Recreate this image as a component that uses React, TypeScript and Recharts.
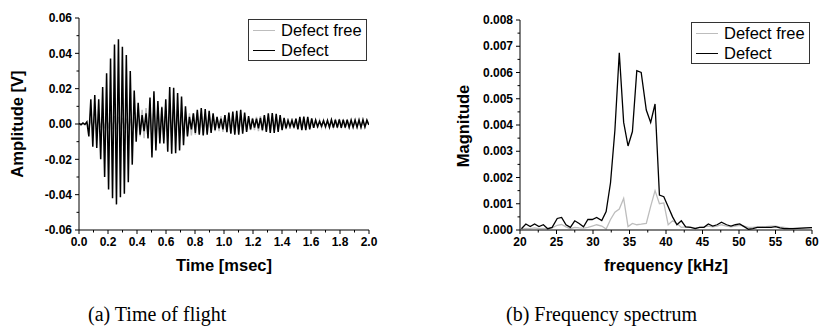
import React from 'react';
import { LineChart, Line, XAxis, YAxis } from 'recharts';

// ---------- Time of flight (left) ----------
const SAMPLE_INTERVAL_MS = 0.0136;
const SERIES_NAMES = ['Defect free', 'Defect'];

const DEFECT_FREE_TIME = [
  0.0002, -0.0002, 0.0003, -0.0002, 0.0004, -0.0015, 0.002, -0.0015, 0.0025, -0.002,
  0.003, -0.002, 0.003, -0.0025, 0.0035, -0.0025, 0.004, -0.003, 0.0045, -0.003,
  0.004, -0.003, 0.0035, -0.0025, 0.003, -0.0025, 0.003, -0.003, 0.004, -0.005,
  0.006, -0.007, 0.008, -0.008, 0.009, -0.0085, 0.009, -0.008, 0.0085, -0.009,
  0.01, -0.0095, 0.01, -0.009, 0.0085, -0.008, 0.008, -0.0075, 0.008, -0.007,
  0.0075, -0.007, 0.007, -0.0065, 0.007, -0.006, 0.006, -0.0065, 0.006, -0.006,
  0.0065, -0.0055, 0.006, -0.006, 0.0055, -0.005, 0.005, -0.0045, 0.0045, -0.004,
  0.004, -0.004, 0.0045, -0.0045, 0.005, -0.005, 0.0055, -0.005, 0.0055, -0.005,
  0.005, -0.0045, 0.0045, -0.004, 0.004, -0.0035, 0.0035, -0.0035, 0.0035, -0.0035,
  0.004, -0.004, 0.0045, -0.004, 0.0045, -0.004, 0.004, -0.0035, 0.004, -0.0035,
  0.0035, -0.003, 0.003, -0.003, 0.003, -0.003, 0.003, -0.0028, 0.003, -0.0028,
  0.003, -0.0028, 0.0028, -0.0025, 0.0028, -0.0025, 0.0025, -0.0022, 0.0024, -0.0022,
  0.0024, -0.0022, 0.0022, -0.002, 0.0022, -0.002, 0.0022, -0.002, 0.002, -0.002,
  0.002, -0.0018, 0.002, -0.0018, 0.002, -0.0018, 0.0018, -0.0018, 0.0018, -0.0016,
  0.0018, -0.0016, 0.0018, -0.0016, 0.0016, -0.0016, 0.0016, -0.0004,
];

const DEFECT_TIME = [
  0.0003, -0.0004, 0.0006, -0.0003, 0.0012, -0.007, 0.014, -0.0128, 0.0164, -0.0135,
  0.014, -0.02, 0.021, -0.03, 0.0287, -0.037, 0.037, -0.042, 0.045, -0.0455,
  0.048, -0.0415, 0.0437, -0.0395, 0.039, -0.033, 0.03, -0.023, 0.019, -0.01,
  0.012, -0.006, 0.005, -0.004, 0.006, -0.008, 0.015, -0.019, 0.0185, -0.015,
  0.013, -0.011, 0.0095, -0.011, 0.014, -0.0157, 0.021, -0.0168, 0.0205, -0.0165,
  0.0175, -0.015, 0.0155, -0.012, 0.01, -0.007, 0.004, -0.003, 0.006, -0.005,
  0.008, -0.006, 0.009, -0.0065, 0.0085, -0.006, 0.0075, -0.005, 0.006, -0.0035,
  0.004, -0.0025, 0.003, -0.003, 0.005, -0.0045, 0.0065, -0.0055, 0.007, -0.006,
  0.0075, -0.006, 0.008, -0.0055, 0.0065, -0.0045, 0.0045, -0.003, 0.003, -0.002,
  0.003, -0.0025, 0.0035, -0.0035, 0.005, -0.0045, 0.006, -0.005, 0.0062, -0.005,
  0.0058, -0.0045, 0.005, -0.0035, 0.0035, -0.0025, 0.002, -0.0015, 0.002, -0.002,
  0.003, -0.003, 0.004, -0.0035, 0.0042, -0.0035, 0.004, -0.003, 0.0032, -0.0022,
  0.0022, -0.0015, 0.0015, -0.0012, 0.0018, -0.0015, 0.002, -0.0018, 0.0024, -0.002,
  0.0025, -0.002, 0.0026, -0.0021, 0.0025, -0.002, 0.0024, -0.0019, 0.0022, -0.0018,
  0.0022, -0.0018, 0.0023, -0.0019, 0.0024, -0.0017, 0.0022, -0.0005,
];

const TIME_MAJOR_TICKS = [0, 0.2, 0.4, 0.6, 0.8, 1.0, 1.2, 1.4, 1.6, 1.8, 2.0];
const TIME_MINOR_TICKS = [0.1, 0.3, 0.5, 0.7, 0.9, 1.1, 1.3, 1.5, 1.7, 1.9];
const AMP_MAJOR_TICKS = [-0.06, -0.04, -0.02, 0, 0.02, 0.04, 0.06];
const AMP_MINOR_TICKS = [-0.05, -0.03, -0.01, 0.01, 0.03, 0.05];

// ---------- Frequency spectrum (right) ----------
const FREQ_KHZ = [
  20.2, 20.8, 21.4, 22.0, 22.6, 23.2, 23.8, 24.4, 25.1, 25.7,
  26.3, 26.9, 27.5, 28.1, 28.7, 29.3, 29.9, 30.5, 31.2, 31.8,
  32.4, 33.0, 33.6, 34.2, 34.8, 35.4, 36.0, 36.6, 37.3, 37.9,
  38.5, 39.1, 39.7, 40.3, 40.9, 41.5, 42.1, 42.7, 43.4, 44.0,
  44.6, 45.2, 45.8, 46.4, 47.0, 47.6, 48.3, 48.9, 49.5, 50.1,
  50.7, 51.3, 51.9, 52.5, 53.1, 53.7, 54.4, 55.0, 55.6, 56.2,
  56.8, 57.4, 58.0, 58.6, 59.2, 59.8, 60.4,
];

const DEFECT_FREE_SPEC = [
  0.00003, 0.00006, 0.00005, 0.00008, 0.00005, 0.00006, 0.00004, 0.00008, 0.00018, 0.00021,
  0.00012, 0.00005, 0.0001, 0.00008, 0.00007, 0.0001, 0.00015, 0.0002, 0.00015, 0.00004,
  0.0004, 0.00068, 0.0008, 0.0012, 0.00013, 0.00025, 0.0002, 0.00022, 0.00025, 0.0009,
  0.0015, 0.001, 0.00103, 0.0002, 0.00035, 0.00025, 0.0001, 0.00012, 0.0001, 0.00008,
  0.0001, 0.00012, 0.00015, 0.00012, 0.00015, 0.0002, 0.00015, 0.00012, 0.00015, 0.00018,
  0.00015, 0.0001, 0.0001, 0.00012, 0.00012, 0.00013, 0.00015, 0.00015, 0.00012, 0.0001,
  0.00007, 0.00006, 0.00006, 0.00007, 0.00008, 0.00008, 0.00008,
];

const DEFECT_SPEC = [
  0.00005, 0.00023, 0.00013, 0.00023, 0.00013, 0.0002, 0.00005, 0.0001, 0.00044, 0.00048,
  0.0002, 0.0001, 0.00035, 0.00025, 0.00012, 0.0004, 0.0004, 0.00048, 0.00036, 0.0007,
  0.0018, 0.0038, 0.00675, 0.0041, 0.0032, 0.00375, 0.00607, 0.006, 0.00457, 0.0041,
  0.0048, 0.00133, 0.00127, 0.00089, 0.0005, 0.0002, 0.00035, 0.00012, 0.0001, 0.00005,
  0.0001, 0.0001, 0.00023, 0.00015, 0.0002, 0.0003, 0.0002, 0.00015, 0.0002, 0.00023,
  0.00013, 0.00003, 0.00005, 0.0001, 0.0001, 0.0001, 0.0001, 0.00013, 0.00008, 0.00005,
  0.00005, 0.00005, 0.00006, 0.00007, 0.00008, 0.00009, 0.00009,
];

const FREQ_MAJOR_TICKS = [20, 25, 30, 35, 40, 45, 50, 55, 60];
const FREQ_MINOR_TICKS = [22.5, 27.5, 32.5, 37.5, 42.5, 47.5, 52.5, 57.5];
const MAG_MAJOR_TICKS = [0, 0.001, 0.002, 0.003, 0.004, 0.005, 0.006, 0.007, 0.008];
const MAG_MINOR_TICKS = [0.0005, 0.0015, 0.0025, 0.0035, 0.0045, 0.0055, 0.0065, 0.0075];

const CAPTIONS = ['(a) Time of flight', '(b) Frequency spectrum'];
const AXIS_TITLES = ['Amplitude [V]', 'Time [msec]', 'Magnitude', 'frequency [kHz]'];

const timeData = DEFECT_TIME.map((v, i) => ({
  t: i * SAMPLE_INTERVAL_MS,
  defectFree: DEFECT_FREE_TIME[i],
  defect: v,
}));

const specData = FREQ_KHZ.map((f, i) => ({
  f,
  defectFree: DEFECT_FREE_SPEC[i],
  defect: DEFECT_SPEC[i],
}));

const SANS = '"Liberation Sans", Arial, Helvetica, sans-serif';
const SERIF = '"Liberation Serif", "Times New Roman", Times, serif';
const GREY = '#bdbdbd';

const makeXTick = (majors: number[], digits: number) => (props: any) => {
  const { x, y, payload } = props;
  const major = majors.includes(payload.value);
  return (
    <g>
      <line x1={x} x2={x} y1={y} y2={y + (major ? 4 : 2.5)} stroke="#000" strokeWidth={1} />
      {major && (
        <text x={x} y={y + 7} dy="0.71em" textAnchor="middle" fill="#000"
          style={{ fontSize: 12, fontWeight: 700, fontFamily: SANS }}>
          {Number(payload.value).toFixed(digits)}
        </text>
      )}
    </g>
  );
};

const makeYTick = (majors: number[], digits: number) => (props: any) => {
  const { x, y, payload } = props;
  const major = majors.includes(payload.value);
  return (
    <g>
      <line x1={x - (major ? 4 : 2.5)} x2={x} y1={y} y2={y} stroke="#000" strokeWidth={1} />
      {major && (
        <text x={x - 7} y={y} dy="0.35em" textAnchor="end" fill="#000"
          style={{ fontSize: 12, fontWeight: 700, fontFamily: SANS }}>
          {Number(payload.value).toFixed(digits)}
        </text>
      )}
    </g>
  );
};

const LegendBox = ({ left, top }: { left: number; top: number }) => (
  <div
    style={{
      position: 'absolute',
      left,
      top,
      width: 117,
      height: 40,
      border: '1px solid #333',
      background: '#fff',
      fontFamily: SANS,
      fontSize: 16.5,
      color: '#000',
      boxSizing: 'content-box',
    }}
  >
    {SERIES_NAMES.map((name, i) => (
      <div key={name} style={{ display: 'flex', alignItems: 'center', height: 20 }}>
        <div style={{ width: 22, height: 0, borderTop: `1.5px solid ${i === 0 ? GREY : '#000'}`, marginLeft: 4, marginRight: 6 }} />
        <span style={{ lineHeight: '20px', whiteSpace: 'nowrap' }}>{name}</span>
      </div>
    ))}
  </div>
);

const titleStyle = (left: number, top: number, rotate = false): React.CSSProperties => ({
  position: 'absolute',
  left,
  top,
  transform: `translate(-50%, -50%)${rotate ? ' rotate(-90deg)' : ''}`,
  fontFamily: SANS,
  fontWeight: 'bold',
  fontSize: 16.5,
  whiteSpace: 'nowrap',
  color: '#000',
  lineHeight: 1,
});

export default function App() {
  return (
    <div style={{ position: 'absolute', left: 0, top: 0, width: 819, height: 332, background: '#fff', overflow: 'hidden' }}>
      <div style={{ position: 'absolute', left: 0, top: 0 }}>
        <LineChart width={400} height={280} data={timeData} margin={{ top: 18, right: 31, bottom: 0, left: 0 }}>
          <XAxis
            dataKey="t"
            type="number"
            domain={[0, 2]}
            ticks={[...TIME_MAJOR_TICKS, ...TIME_MINOR_TICKS]}
            interval={0}
            tickSize={0}
            tickMargin={0}
            tickLine={false}
            tick={makeXTick(TIME_MAJOR_TICKS, 1)}
            axisLine={{ stroke: '#000' }}
            height={50}
            allowDataOverflow
          />
          <YAxis
            type="number"
            domain={[-0.06, 0.06]}
            ticks={[...AMP_MAJOR_TICKS, ...AMP_MINOR_TICKS]}
            interval={0}
            tickSize={0}
            tickMargin={0}
            tickLine={false}
            tick={makeYTick(AMP_MAJOR_TICKS, 2)}
            axisLine={{ stroke: '#000' }}
            width={79}
            allowDataOverflow
          />
          <Line type="linear" dataKey="defectFree" name={SERIES_NAMES[0]} stroke={GREY} strokeWidth={1.5} dot={false} isAnimationActive={false} />
          <Line type="linear" dataKey="defect" name={SERIES_NAMES[1]} stroke="#000" strokeWidth={1.5} dot={false} isAnimationActive={false} />
        </LineChart>
      </div>

      <div style={{ position: 'absolute', left: 410, top: 0 }}>
        <LineChart width={409} height={280} data={specData} margin={{ top: 20, right: 7, bottom: 0, left: 0 }}>
          <XAxis
            dataKey="f"
            type="number"
            domain={[20, 60]}
            ticks={[...FREQ_MAJOR_TICKS, ...FREQ_MINOR_TICKS]}
            interval={0}
            tickSize={0}
            tickMargin={0}
            tickLine={false}
            tick={makeXTick(FREQ_MAJOR_TICKS, 0)}
            axisLine={{ stroke: '#000' }}
            height={50}
            allowDataOverflow
          />
          <YAxis
            type="number"
            domain={[0, 0.008]}
            ticks={[...MAG_MAJOR_TICKS, ...MAG_MINOR_TICKS]}
            interval={0}
            tickSize={0}
            tickMargin={0}
            tickLine={false}
            tick={makeYTick(MAG_MAJOR_TICKS, 3)}
            axisLine={{ stroke: '#000' }}
            width={110}
            allowDataOverflow
          />
          <Line type="linear" dataKey="defectFree" name={SERIES_NAMES[0]} stroke={GREY} strokeWidth={1.3} dot={false} isAnimationActive={false} />
          <Line type="linear" dataKey="defect" name={SERIES_NAMES[1]} stroke="#000" strokeWidth={1.3} dot={false} isAnimationActive={false} />
        </LineChart>
      </div>

      <LegendBox left={248} top={19} />
      <LegendBox left={691} top={22} />

      <div style={titleStyle(17, 124, true)}>{AXIS_TITLES[0]}</div>
      <div style={titleStyle(224, 265)}>{AXIS_TITLES[1]}</div>
      <div style={titleStyle(463, 126, true)}>{AXIS_TITLES[2]}</div>
      <div style={titleStyle(666, 265)}>{AXIS_TITLES[3]}</div>

      <div style={{ position: 'absolute', left: 88, top: 302, fontFamily: SERIF, fontSize: 20, lineHeight: '24px', color: '#000', whiteSpace: 'nowrap' }}>
        {CAPTIONS[0]}
      </div>
      <div style={{ position: 'absolute', left: 506, top: 302, fontFamily: SERIF, fontSize: 20, lineHeight: '24px', color: '#000', whiteSpace: 'nowrap' }}>
        {CAPTIONS[1]}
      </div>
    </div>
  );
}
